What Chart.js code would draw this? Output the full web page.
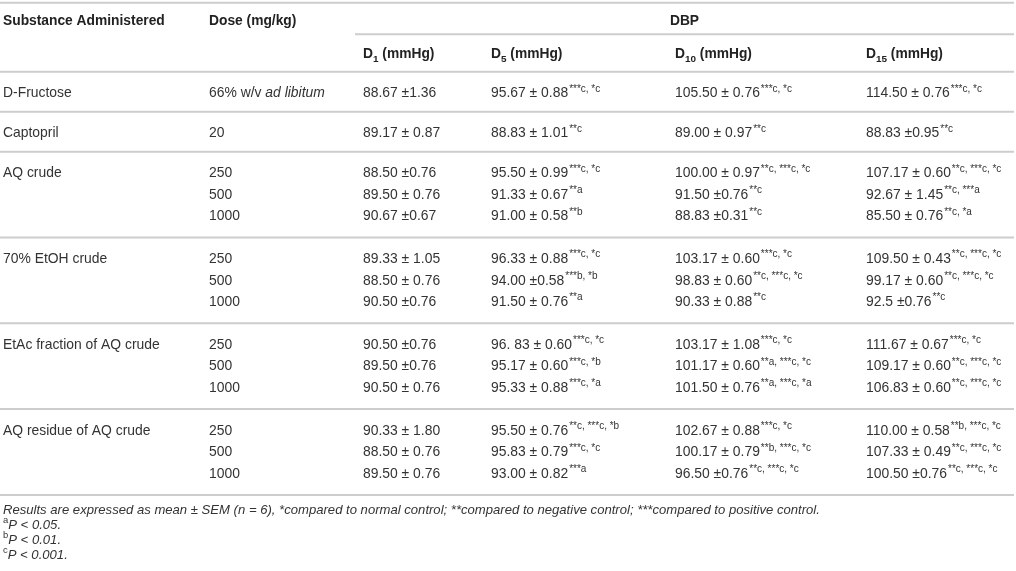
<!DOCTYPE html>
<html>
<head>
<meta charset="utf-8">
<title>DBP table</title>
<script src="https://cdn.jsdelivr.net/npm/chart.js@4.4.1/dist/chart.umd.min.js"></script>
<style>
  html, body { margin: 0; padding: 0; background: #fff; }
  #wrap { width: 1016px; height: 571px; position: relative; }
</style>
</head>
<body>
<div id="wrap"><canvas id="tableChart"></canvas></div>
<script>
// Table text. Markup: ^{..} superscript, _{..} subscript, ~{..} italic
const headers = ['Substance Administered', 'Dose (mg/kg)'];
const groupTitle = 'DBP';
const dayLabels = ['D_{1} (mmHg)', 'D_{5} (mmHg)', 'D_{10} (mmHg)', 'D_{15} (mmHg)'];

const substances = ['D-Fructose', 'Captopril', 'AQ crude', '70% EtOH crude', 'EtAc fraction of AQ crude', 'AQ residue of AQ crude'];
const doses = [
    ['66% w/v ~{ad libitum}'],
    ['20'],
    ['250', '500', '1000'],
    ['250', '500', '1000'],
    ['250', '500', '1000'],
    ['250', '500', '1000']
];

// one entry per dose row, top to bottom
const d1Values = ['88.67 ±1.36', '89.17 ± 0.87', '88.50 ±0.76', '89.50 ± 0.76', '90.67 ±0.67',
    '89.33 ± 1.05', '88.50 ± 0.76', '90.50 ±0.76', '90.50 ±0.76', '89.50 ±0.76', '90.50 ± 0.76',
    '90.33 ± 1.80', '88.50 ± 0.76', '89.50 ± 0.76'];
const d5Values = ['95.67 ± 0.88^{***c, *c}', '88.83 ± 1.01^{**c}', '95.50 ± 0.99^{***c, *c}', '91.33 ± 0.67^{**a}',
    '91.00 ± 0.58^{**b}', '96.33 ± 0.88^{***c, *c}', '94.00 ±0.58^{***b, *b}', '91.50 ± 0.76^{**a}',
    '96. 83 ± 0.60^{***c, *c}', '95.17 ± 0.60^{***c, *b}', '95.33 ± 0.88^{***c, *a}',
    '95.50 ± 0.76^{**c, ***c, *b}', '95.83 ± 0.79^{***c, *c}', '93.00 ± 0.82^{***a}'];
const d10Values = ['105.50 ± 0.76^{***c, *c}', '89.00 ± 0.97^{**c}', '100.00 ± 0.97^{**c, ***c, *c}', '91.50 ±0.76^{**c}',
    '88.83 ±0.31^{**c}', '103.17 ± 0.60^{***c, *c}', '98.83 ± 0.60^{**c, ***c, *c}', '90.33 ± 0.88^{**c}',
    '103.17 ± 1.08^{***c, *c}', '101.17 ± 0.60^{**a, ***c, *c}', '101.50 ± 0.76^{**a, ***c, *a}',
    '102.67 ± 0.88^{***c, *c}', '100.17 ± 0.79^{**b, ***c, *c}', '96.50 ±0.76^{**c, ***c, *c}'];
const d15Values = ['114.50 ± 0.76^{***c, *c}', '88.83 ±0.95^{**c}', '107.17 ± 0.60^{**c, ***c, *c}', '92.67 ± 1.45^{**c, ***a}',
    '85.50 ± 0.76^{**c, *a}', '109.50 ± 0.43^{**c, ***c, *c}', '99.17 ± 0.60^{**c, ***c, *c}', '92.5 ±0.76^{**c}',
    '111.67 ± 0.67^{***c, *c}', '109.17 ± 0.60^{**c, ***c, *c}', '106.83 ± 0.60^{**c, ***c, *c}',
    '110.00 ± 0.58^{**b, ***c, *c}', '107.33 ± 0.49^{**c, ***c, *c}', '100.50 ±0.76^{**c, ***c, *c}'];

const footnotes = [
    '~{Results are expressed as mean ± SEM (n = 6), *compared to normal control; **compared to negative control; ***compared to positive control.}',
    '^{a}~{P < 0.05.}',
    '^{b}~{P < 0.01.}',
    '^{c}~{P < 0.001.}'
];

// Layout (in value units of the x/y scales, which map 1:1 to the page)
const layout = {
    colX: [3, 209, 363, 491, 675, 866],
    right: 1014,
    topLine: 2.7,
    head1: 20,
    subLine: 34.3,
    head2: 52.7,
    headLine: 71.7,
    rowOffset: 20.5,
    rowPitch: 21.5,
    groupBase: 40,
    groupExtra: 22.9,
    noteOffset: 14,
    notePitch: 15
};

const FONT = '"Liberation Sans", Arial, Helvetica, sans-serif';
const TEXT_SIZE = 13.9;
const HEAD_SIZE = 13.8;
const NOTE_SIZE = 13.1;
const LINE_COLOR = '#cdcdcd';

// split a marked up string into segments
function parseRich(str) {
    const parts = [];
    const re = /([\^_~])\{([^}]*)\}/g;
    let last = 0, m;
    while ((m = re.exec(str)) !== null) {
        if (m.index > last) parts.push({ text: str.slice(last, m.index), kind: 'n' });
        parts.push({ text: m[2], kind: m[1] });
        last = re.lastIndex;
    }
    if (last < str.length) parts.push({ text: str.slice(last), kind: 'n' });
    return parts;
}

function segFont(kind, size, bold, italic) {
    let s = size;
    if (kind === '^') s = size * 0.72;
    if (kind === '_') s = size * 0.72;
    const it = (italic || kind === '~') ? 'italic ' : '';
    return `${it}${bold ? 'bold ' : ''}${s}px ${FONT}`;
}

function richWidth(ctx, str, size, bold, italic) {
    let w = 0;
    parseRich(str).forEach(p => {
        ctx.font = segFont(p.kind, size, bold, italic);
        w += ctx.measureText(p.text).width;
    });
    return w;
}

// draw a marked up string, x = left edge, y = vertical centre
function drawRich(ctx, str, x, y, size, bold, color, italic) {
    const base = y + size * 0.36;
    ctx.fillStyle = color;
    ctx.textBaseline = 'alphabetic';
    ctx.textAlign = 'left';
    parseRich(str).forEach((p, i) => {
        ctx.font = segFont(p.kind, size, bold, italic);
        let by = base;
        if (p.kind === '^') {
            by = base - size * 0.40;
            if (i > 0) x += 1;
        }
        if (p.kind === '_') by = base + size * 0.28;
        ctx.fillText(p.text, x, by);
        x += ctx.measureText(p.text).width;
    });
}

const tablePlugin = {
    id: 'tableDraw',
    afterDraw(chart) {
        const ctx = chart.ctx;
        const xs = chart.scales.x;
        const ys = chart.scales.y;
        const px = v => xs.getPixelForValue(v);
        const py = v => ys.getPixelForValue(v);
        const cols = layout.colX.map(px);

        ctx.save();
        ctx.strokeStyle = LINE_COLOR;
        ctx.lineWidth = 2;
        const hline = (y, x0) => {
            ctx.beginPath();
            ctx.moveTo(x0, py(y));
            ctx.lineTo(px(layout.right), py(y));
            ctx.stroke();
        };

        // header
        hline(layout.topLine, px(0));
        drawRich(ctx, headers[0], cols[0], py(layout.head1), HEAD_SIZE, true, '#222');
        drawRich(ctx, headers[1], cols[1], py(layout.head1), HEAD_SIZE, true, '#222');
        const spanL = cols[2] - 8;
        const spanR = px(layout.right);
        const gw = richWidth(ctx, groupTitle, HEAD_SIZE, true);
        drawRich(ctx, groupTitle, (spanL + spanR) / 2 - gw / 2, py(layout.head1), HEAD_SIZE, true, '#222');
        hline(layout.subLine, spanL);
        dayLabels.forEach((lab, i) => {
            drawRich(ctx, lab, cols[i + 2], py(layout.head2), HEAD_SIZE, true, '#222');
        });
        hline(layout.headLine, px(0));

        // body
        const dayCols = [d1Values, d5Values, d10Values, d15Values];
        let top = layout.headLine;
        let row = 0;
        substances.forEach((name, g) => {
            const n = doses[g].length;
            drawRich(ctx, name, cols[0], py(top + layout.rowOffset), TEXT_SIZE, false, '#333');
            doses[g].forEach((dose, k) => {
                const y = py(top + layout.rowOffset + k * layout.rowPitch);
                drawRich(ctx, dose, cols[1], y, TEXT_SIZE, false, '#333');
                dayCols.forEach((vals, c) => {
                    drawRich(ctx, vals[row], cols[c + 2], y, TEXT_SIZE, false, '#333');
                });
                row++;
            });
            top += layout.groupBase + (n - 1) * layout.groupExtra;
            hline(top, px(0));
        });

        // footnotes
        footnotes.forEach((note, i) => {
            drawRich(ctx, note, cols[0], py(top + layout.noteOffset + i * layout.notePitch), NOTE_SIZE, false, '#333');
        });
        ctx.restore();
    }
};

new Chart(document.getElementById('tableChart'), {
    type: 'scatter',
    data: { datasets: [] },
    options: {
        responsive: true,
        maintainAspectRatio: false,
        animation: false,
        events: [],
        layout: { padding: 0 },
        plugins: { legend: { display: false }, tooltip: { enabled: false } },
        scales: {
            x: { type: 'linear', min: 0, max: 1016, display: false },
            y: { type: 'linear', min: 0, max: 571, reverse: true, display: false }
        }
    },
    plugins: [tablePlugin]
});
</script>
</body>
</html>
